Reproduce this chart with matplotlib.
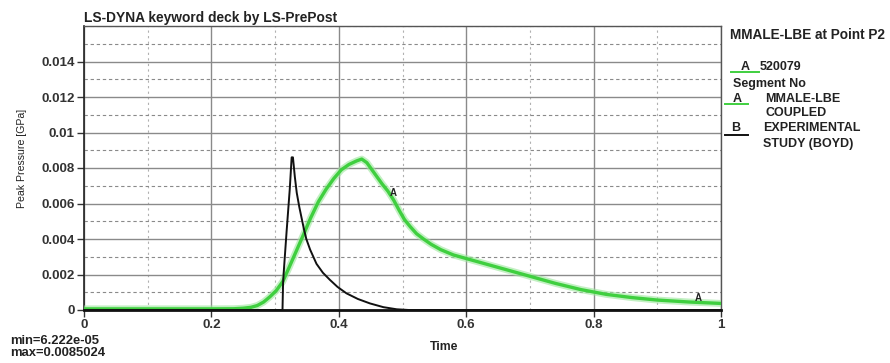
import matplotlib
matplotlib.use("Agg")
import matplotlib.pyplot as plt
from matplotlib.ticker import MultipleLocator, FixedLocator
from matplotlib.lines import Line2D

plt.rcParams['font.family'] = ['Liberation Sans', 'DejaVu Sans']

# Curve A: MMALE-LBE coupled simulation at point P2
time_a = [0.0, 0.20, 0.235, 0.250, 0.262, 0.272, 0.282, 0.292, 0.302, 0.312,
          0.322, 0.333, 0.344, 0.356, 0.368, 0.380, 0.392, 0.404, 0.416, 0.428,
          0.436, 0.444, 0.452, 0.460, 0.468, 0.477, 0.486, 0.495, 0.503, 0.512,
          0.522, 0.533, 0.545, 0.560, 0.580, 0.600, 0.630, 0.660, 0.700, 0.740,
          0.780, 0.820, 0.860, 0.900, 0.950, 1.0]
pressure_a = [6.222e-05, 6.3e-05, 7e-05, 0.0001, 0.00015, 0.00025, 0.00045, 0.00075,
              0.0011, 0.0016, 0.0024, 0.0033, 0.0042, 0.0052, 0.0061, 0.0068,
              0.0074, 0.0079, 0.0082, 0.0084, 0.0085024, 0.0083, 0.0079, 0.0075,
              0.0071, 0.0067, 0.0062, 0.0056, 0.0051, 0.0047, 0.0043, 0.0040,
              0.0037, 0.0034, 0.0031, 0.0029, 0.0026, 0.0023, 0.0019, 0.0015,
              0.00115, 0.00088, 0.00070, 0.00056, 0.00045, 0.00037]

# Curve B: experimental study (Boyd)
time_b = [0.0, 0.3116, 0.3125, 0.3135, 0.318, 0.323, 0.326, 0.328, 0.331, 0.334,
          0.338, 0.3415, 0.345, 0.349, 0.355, 0.365, 0.375, 0.386, 0.398, 0.412,
          0.430, 0.449, 0.470, 0.491, 0.510, 1.0]
pressure_b = [0.0, 0.0, 0.0015, 0.0021, 0.0044, 0.0068, 0.0086, 0.0086, 0.0075, 0.0066,
              0.0058, 0.0052, 0.0046, 0.0040, 0.0034, 0.0026, 0.0021, 0.0017, 0.0013,
              0.00094, 0.00062, 0.00037, 0.00016, 0.00004, 0.0, 0.0]

x_ticks = [0, 0.2, 0.4, 0.6, 0.8, 1]
x_ticklabels = ["0", "0.2", "0.4", "0.6", "0.8", "1"]
y_ticks = [0, 0.002, 0.004, 0.006, 0.008, 0.01, 0.012, 0.014]
y_ticklabels = ["0", "0.002", "0.004", "0.006", "0.008", "0.01", "0.012", "0.014"]

# Curve tag positions (time, pressure)
tag_a = [(0.485, 0.0066), (0.964, 0.00066)]

W, H = 890, 363
fig = plt.figure(figsize=(W / 100, H / 100), dpi=100)
ax = fig.add_axes([84 / W, 1 - 310 / H, (721 - 84) / W, (310 - 26) / H])

green = '#3fcf3f'
ax.plot(time_a, pressure_a, color='#9be69b', lw=5.0, alpha=0.6,
        solid_capstyle='round', solid_joinstyle='round', zorder=3)
ax.plot(time_a, pressure_a, color=green, lw=2.4, solid_joinstyle='round', zorder=4)
ax.plot(time_b, pressure_b, color='#111111', lw=1.4, zorder=5)

for tx, ty in tag_a:
    ax.text(tx, ty, "A", fontsize=7, fontweight='bold', color='#222222',
            ha='center', va='center', zorder=6)

ax.set_xlim(0, 1)
ax.set_ylim(0, 0.016)
ax.xaxis.set_major_locator(FixedLocator(x_ticks))
ax.set_xticklabels(x_ticklabels)
ax.yaxis.set_major_locator(FixedLocator(y_ticks))
ax.set_yticklabels(y_ticklabels)
ax.xaxis.set_minor_locator(MultipleLocator(0.1))
ax.yaxis.set_minor_locator(MultipleLocator(0.001))

ax.grid(which='major', color='#8a8a8a', lw=1.0, ls='-')
ax.grid(which='minor', axis='y', color='#8a8a8a', lw=0.8, ls=(0, (3, 2.5)))
ax.grid(which='minor', axis='x', color='#b0b0b0', lw=0.8, ls=(0, (2, 3)))
ax.set_axisbelow(True)

ax.tick_params(which='major', direction='out', length=5, width=1, color='#333333',
               labelsize=9.6, pad=1.5)
ax.tick_params(which='minor', length=0)
for lab in ax.get_xticklabels() + ax.get_yticklabels():
    lab.set_fontweight('bold')
    lab.set_color('#333333')

for side in ['top', 'right']:
    ax.spines[side].set_color('#555555')
    ax.spines[side].set_linewidth(1.0)
ax.spines['left'].set_color('#222222')
ax.spines['left'].set_linewidth(1.2)
ax.spines['bottom'].set_color('#111111')
ax.spines['bottom'].set_linewidth(2.0)

# Title and axis labels
fig.text(84 / W, 1 - 18 / H, "LS-DYNA keyword deck by LS-PrePost", fontsize=9.9,
         fontweight='bold', color='#222222', ha='left', va='center')
fig.text(444 / W, 1 - 347 / H, "Time", fontsize=8.8, fontweight='bold',
         color='#222222', ha='center', va='center')
fig.text(22 / W, 1 - 158 / H, "Peak Pressure [GPa]", fontsize=7.6,
         color='#222222', rotation=90, ha='center', va='center')
fig.text(10 / W, 1 - 341.5 / H, "min=6.222e-05", fontsize=9.4, fontweight='bold',
         color='#222222', ha='left', va='center')
fig.text(10 / W, 1 - 352.5 / H, "max=0.0085024", fontsize=9.4, fontweight='bold',
         color='#222222', ha='left', va='center')

# Legend block on the right
lt = dict(fontsize=9, fontweight='bold', color='#222222', va='center')
fig.text(730 / W, 1 - 35 / H, "MMALE-LBE at Point P2", ha='left',
         fontsize=9.8, fontweight='bold', color='#222222', va='center')
fig.text(745 / W, 1 - 67 / H, "A", ha='center', **lt)
fig.text(760 / W, 1 - 67 / H, "520079", ha='left', **lt)
fig.text(733 / W, 1 - 84 / H, "Segment No", ha='left', **lt)
fig.text(737 / W, 1 - 99 / H, "A", ha='center', **lt)
fig.text(765 / W, 1 - 99 / H, "MMALE-LBE", ha='left', **lt)
fig.text(766 / W, 1 - 113 / H, "COUPLED", ha='left', **lt)
fig.text(736 / W, 1 - 128 / H, "B", ha='center', **lt)
fig.text(763 / W, 1 - 128 / H, "EXPERIMENTAL", ha='left', **lt)
fig.text(763 / W, 1 - 144 / H, "STUDY (BOYD)", ha='left', **lt)

for x0, x1, y, c in [(731, 759, 72, green), (725, 748, 104, green), (725, 748, 135, '#111111')]:
    fig.add_artist(Line2D([x0 / W, x1 / W], [1 - y / H, 1 - y / H], color=c, lw=1.4,
                          transform=fig.transFigure))

fig.savefig("out.png", dpi=100, facecolor='white')
